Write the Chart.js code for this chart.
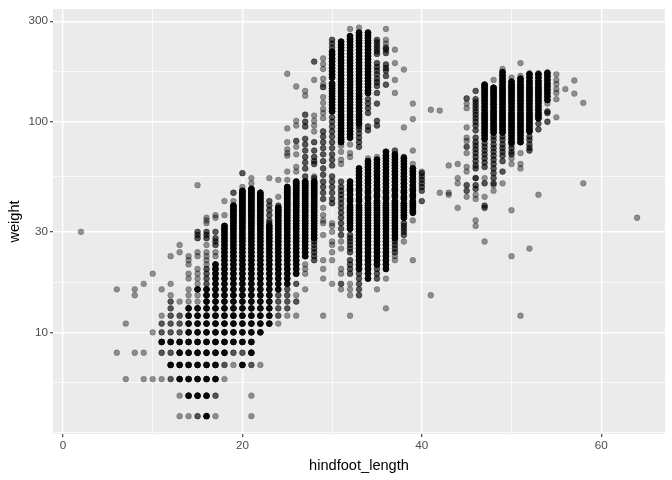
<!DOCTYPE html>
<html><head><meta charset="utf-8">
<style>html,body{margin:0;padding:0;background:#fff}canvas{display:block}</style>
<script src="https://cdn.jsdelivr.net/npm/chart.js@4"></script>
</head><body><div style="width:672px;height:480px"><canvas id="c" width="672" height="480"></canvas></div>
<script>
const xMajorTicks=[0,20,40,60];
const xMinorTicks=[10,30,50];
const yMajorTicks=[10,30,100,300];
const yMinorTicks=[3.35,5.77,17.3,54.8,173];
const lightByFoot={
2:[30],6:[16,8],7:[11,6],8:[16,15,8],9:[17,8,6],10:[19,10,6],
11:[16,12,6],12:[23,17,15],13:[26,24,14,5,4],14:[23,22,21,19,18,16,15,14,4],
15:[50,24,23,20,19,18,17,15,14],16:[35,34,33,26,24,23,22,21],17:[36,35,24,23,4],18:[42,36,6],19:[42,7],
20:[49],21:[54,51,5,4],22:[7],23:[54],24:[53,44,11],
25:[169,93,80,74,71,69,58,53,12],26:[147,101,96,76,70,61,58,15,12],27:[140,133,21,20,19,16],28:[158,107,101,96,90,55],
29:[200,188,178,160,151,131,123,115,110,104,39,36,34,33,29,22,20,18,12],30:[33,32,30,27,26,24,22,17],31:[77,72,66,63,27,25,20,19,16],32:[276,78,71,68,17,16,15,12],
33:[280],34:[67],35:[68,16],36:[276,245,235,18,13],37:[220,190,158,137,23,22],38:[177,94,27],39:[122,103,73,63,34,22],
40:[58],41:[114,15],42:[113,46],43:[62,46,45],44:[63,54,51,39],
45:[122,116,94,84,81,71,61,58,44],46:[54,45,43,34,32],47:[54,44,27],48:[158,50,47],49:[178,51],
50:[162,67,63,38,23],51:[190,165,71,63,60,12],52:[170,25],53:[170,45],54:[172,122],
55:[168,158,151,143,137,128,105],56:[143],57:[157,136],58:[123,51],64:[35]
};
const mediumByFoot={
11:[11,10,8],12:[14,13,12,11,10,8,6],13:[12,11,10],15:[30,29,28,4],16:[30,29,28,20,19,18,17],17:[30,28,27,26,5],18:[7],19:[46,8],20:[57,8],21:[7],
23:[42,40,38,36,34,33],24:[40,15,14,13,12],25:[16,15,14,13],26:[81,17,14],27:[108,100,95,83,78,73,68,64,60,55],
28:[193,80,73,68,65,63,54,27,26,25,24,23,22],29:[146,90,85,80,75,70,65,60,56,52,49,46,43],30:[245,235,225,105,100,95,90,85,80,75,70,66,62,55,52,49,46,43,41],
31:[52,49,47,45,43,41,39,37,35,33,31,29,17],32:[29,28,27,26,25,24,22,21,20,19],33:[95,92,88,84,80,76,19,18,17,16,15],
34:[128,122,116,110,95,91],35:[245,238,230,223,216,210,190,182,175,168,160,154,148,137,122,101,96,20,19,18],
36:[225,220,212,187,180,175,165,150],37:[73,27,26,25,24],38:[68,33,32,31,30,29],39:[],
40:[57,55,53,51,49,47,42],45:[129,76,50,47],46:[140,128,124,120,116,112,108,104,100,96,91,84,80,77,74,71,68,65,62,60,54,50,48],
47:[79,76,73,70,67,64,61,51,40,39],48:[85,82,78,75,72,69,66,63,60,57,54,51],49:[85,82,78,75,72,69,65,58],50:[78,75,72,70],
52:[85,82,78,75,73],53:[98,92],54:[112,110,100]
};
const heavyByFoot={
11:[9],12:[9,7],13:[9,8,7,6],
14:[13,12,11,10,9,8,7,6,5],15:[16,13,12,11,10,9,8,7,6,5],16:[16,15,14,13,12,11,10,9,8,7,6,5,4],
17:[21,20,19,18,17,16,15,14,13,12,11,10,9,8,7,6],
18:[32,31,30,29,28,27,26,25,24,23,22,21,20,19,18,17,16,15,14,13,12,11,10,9,8],
19:[40,39,38,37,36,35,34,33,32,31,30,29,28,27,26,25,24,23,22,21,20,19,18,17,16,15,14,13,12,11,10,9],
20:[47,46,45,44,43,42,41,40,39,38,37,36,35,34,33,32,31,30,29,28,27,26,25,24,23,22,21,20,19,18,17,16,15,14,13,12,11,10,9,7],
21:[48,47,46,45,44,43,42,41,40,39,38,37,36,35,34,33,32,31,30,29,28,27,26,25,24,23,22,21,20,19,18,17,16,15,14,13,12,11,10,9,8],
22:[46,45,44,43,42,41,40,39,38,37,36,35,34,33,32,31,30,29,28,27,26,25,24,23,22,21,20,19,18,17,16,15,14,13,12,11,10],
23:[32,31,30,29,28,27,26,25,24,23,22,21,20,19,18,17,16,15,14,13,12,11],
24:[39,38,37,36,35,34,33,32,31,30,29,28,27,26,25,24,23,22,21,20,19,18,17,16],
25:[49,48,47,46,45,44,43,42,41,40,39,38,37,36,35,34,33,32,31,30,29,28,27,26,25,24,23,22,21,20,19,18,17],
26:[52,51,50,49,48,47,46,45,44,43,42,41,40,39,38,37,36,35,34,33,32,31,30,29,28,27,26,25,24,23,22,21,20,19],
27:[52,51,50,49,48,47,46,45,44,43,42,41,40,39,38,37,36,35,34,33,32,31,30,29,28,27,26,25,24,23],
28:[52,51,50,49,48,47,46,45,44,43,42,41,40,39,38,37,36,35,34,33,32,31,30,29,28],
30:[215,208,200,193,186,180,174,168,162,152,148,144,140,136,132,128,124,120,116,112],
31:[240,232,225,218,210,203,196,190,184,178,172,166,160,155,150,145,140,136,132,128,124,120,116,112,108,105,102,99,96,93,90,87,84,82,80],
32:[255,247,240,232,225,218,210,203,196,190,184,178,172,166,160,155,150,145,140,136,132,128,124,120,116,112,108,105,102,99,96,93,90,87,84,52,50,48,47,45,43,42,40,39,38,37,36,35,34,33,32,31],
33:[265,257,250,243,236,228,220,212,205,198,191,185,179,173,167,161,156,151,146,141,136,132,128,124,120,116,112,108,105,102,98,60,58,56,54,52,50,48,47,45,43,42,40,39,38,37,36,35,34,33,32,31,30,29,28,27,26,25,24,23,22,21,20],
34:[265,257,250,243,236,228,220,212,205,198,191,185,179,173,167,161,156,151,146,141,137,65,63,61,59,57,55,53,51,49,47,46,44,43,41,40,39,38,37,36,35,34,33,32,31,30,29,28,27,26,25,24,23,22,21,20,19,18],
35:[66,64,62,60,58,56,54,52,50,48,47,45,44,42,41,40,39,38,37,36,35,34,33,32,31,30,29,28,27,26,25,24,23,22,21],
36:[72,69,67,65,63,61,59,57,55,53,51,49,47,46,44,43,41,40,39,38,37,36,35,34,33,32,31,30,29,28,27,26,25,24,23,22,21,20],
37:[70,68,66,64,62,60,58,56,54,52,50,48,47,45,44,42,41,40,39,38,37,36,35,34,33,32,31,30,29,28],
38:[67,65,63,61,59,57,55,53,51,49,47,46,44,43,41,40,39,38,37,36,35],
39:[60,58,56,54,52,50,48,47,45,44,42,41,40,39,38,37],
47:[150,146,142,138,134,130,126,122,118,114,110,107,104,101,98,95,92,89,86,83],
48:[145,141,137,133,129,125,121,117,113,110,107,104,101,98,95,92,89],
49:[172,166,160,155,150,145,141,137,133,129,125,121,117,113,110,107,104,101,98,95,92,89],
50:[155,150,146,142,138,134,130,126,122,118,114,110,107,104,101,98,95,92,89,86,83,80],
51:[160,155,150,146,142,138,134,130,126,122,118,114,110,107,104,101,98,95,92,89,86,83,80],
52:[168,162,156,151,146,142,138,134,130,126,122,118,114,110,107,104,101,98,95,92,90],
53:[168,162,156,151,146,142,138,134,130,126,122,118,114,110,107,104],
54:[170,164,158,152,147,142,137,132,127]
};
const lightCopies=1, mediumCopies=2, heavyCopies=6;
function expand(table,copies,out){
  for(const foot of Object.keys(table)){
    for(const w of table[foot]){
      for(let i=0;i<copies;i++) out.push({x:+foot,y:w});
    }
  }
  return out;
}
const points=[];
expand(lightByFoot,lightCopies,points);
expand(mediumByFoot,mediumCopies,points);
expand(heavyByFoot,heavyCopies,points);

const fontFam='"Liberation Sans", Arial, sans-serif';
const panelBg={id:'panelBg',beforeDraw(ch){const a=ch.chartArea,g=ch.ctx;g.save();g.fillStyle='#EBEBEB';g.fillRect(a.left,a.top,a.right-a.left,a.bottom-a.top);g.restore();}};
function axisStyle(majors){
  return {
    grid:{
      color:'#FFFFFF',
      lineWidth:c=>majors.includes(c.tick&&c.tick.value)?1.4:0.7,
      tickColor:c=>majors.includes(c.tick&&c.tick.value)?'#333333':'rgba(0,0,0,0)',
      tickWidth:1.1,tickLength:3,drawTicks:true
    },
    border:{display:false},
    ticks:{
      autoSkip:false,maxRotation:0,minRotation:0,color:'#4D4D4D',
      font:{family:fontFam,size:11.7},padding:2,
      callback:v=>majors.includes(v)?String(v):''
    }
  };
}
const xAxis=axisStyle(xMajorTicks), yAxis=axisStyle(yMajorTicks);
new Chart(document.getElementById('c'),{
  type:'scatter',
  data:{datasets:[{data:points,backgroundColor:'rgba(0,0,0,0.4)',borderColor:'rgba(0,0,0,0.4)',borderWidth:0.5,pointRadius:2.9,pointHoverRadius:2.9}]},
  plugins:[panelBg],
  options:{
    responsive:false,animation:false,devicePixelRatio:1,
    layout:{padding:{top:8,right:7,left:0,bottom:0}},
    plugins:{legend:{display:false},tooltip:{enabled:false},title:{display:false}},
    scales:{
      x:Object.assign({type:'linear',min:-1.115,max:67.11,
        afterBuildTicks:s=>{s.ticks=[...xMajorTicks,...xMinorTicks].map(v=>({value:v}));},
        afterFit:s=>{s.height=46;},
        title:{display:true,text:'hindfoot_length',color:'#000',font:{family:fontFam,size:14.6},padding:{top:6,bottom:5}}
      },xAxis),
      y:Object.assign({type:'logarithmic',min:3.29,max:343,
        afterBuildTicks:s=>{s.ticks=[...yMajorTicks,...yMinorTicks].map(v=>({value:v}));},
        afterFit:s=>{s.width=53;},
        title:{display:true,text:'weight',color:'#000',font:{family:fontFam,size:14.6},padding:{top:6,bottom:0}}
      },yAxis)
    }
  }
});
</script></body></html>
